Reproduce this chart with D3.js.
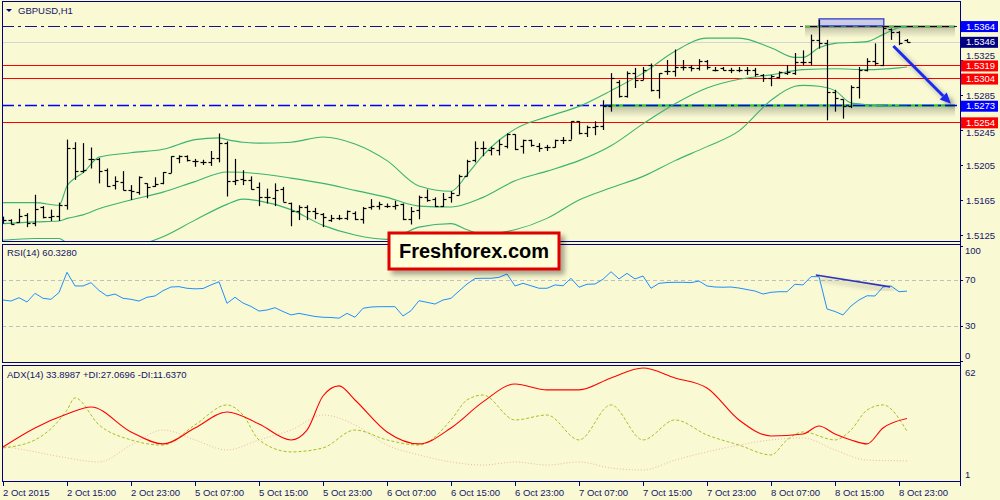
<!DOCTYPE html>
<html><head><meta charset="utf-8">
<script src="https://cdn.jsdelivr.net/npm/d3@7"></script>
<style>
html,body{margin:0;padding:0;background:#f9f9d3;}
svg{display:block;font-family:"Liberation Sans",Arial,sans-serif;}
</style></head><body>
<svg id="c" width="1000" height="500"></svg>
<script>
// ---------------- DATA ----------------
const symbol = "GBPUSD,H1";
const openP = [1.5143,1.5142,1.5140,1.5148,1.5139,1.5157,1.5146,1.5147,1.5159,1.5224,1.5198,1.5212,1.5212,1.5199,1.5182,1.5186,1.5176,1.5174,1.5184,1.5181,1.5184,1.5196,1.5213,1.5215,1.5210,1.5209,1.5208,1.5213,1.5230,1.5187,1.5189,1.5188,1.5180,1.5168,1.5167,1.5177,1.5162,1.5152,1.5157,1.5152,1.5149,1.5142,1.5144,1.5144,1.5150,1.5143,1.5157,1.5158,1.5158,1.5158,1.5160,1.5143,1.5153,1.5169,1.5166,1.5158,1.5168,1.5171,1.5192,1.5211,1.5224,1.5222,1.5222,1.5227,1.5240,1.5227,1.5233,1.5227,1.5225,1.5225,1.5234,1.5234,1.5255,1.5242,1.5248,1.5250,1.5272,1.5300,1.5284,1.5310,1.5302,1.5319,1.5291,1.5312,1.5312,1.5317,1.5317,1.5316,1.5324,1.5314,1.5316,1.5314,1.5314,1.5314,1.5313,1.5308,1.5304,1.5306,1.5310,1.5310,1.5323,1.5323,1.5348,1.5345,1.5289,1.5280,1.5272,1.5294,1.5314,1.5324,1.5319,1.5360,1.5357,1.5348];
const highP = [1.5146,1.5143,1.5155,1.5150,1.5171,1.5158,1.5154,1.5162,1.5234,1.5231,1.5230,1.5225,1.5213,1.5201,1.5192,1.5198,1.5182,1.5192,1.5184,1.5191,1.5197,1.5215,1.5216,1.5216,1.5212,1.5211,1.5221,1.5241,1.5232,1.5212,1.5199,1.5192,1.5185,1.5178,1.5184,1.5180,1.5162,1.5159,1.5159,1.5156,1.5150,1.5148,1.5148,1.5153,1.5152,1.5157,1.5166,1.5163,1.5161,1.5164,1.5161,1.5157,1.5170,1.5177,1.5168,1.5173,1.5175,1.5194,1.5211,1.5232,1.5232,1.5226,1.5234,1.5241,1.5240,1.5234,1.5234,1.5230,1.5228,1.5234,1.5237,1.5255,1.5255,1.5250,1.5255,1.5279,1.5310,1.5302,1.5312,1.5316,1.5317,1.5321,1.5310,1.5325,1.5337,1.5325,1.5319,1.5326,1.5325,1.5317,1.5317,1.5316,1.5317,1.5317,1.5316,1.5309,1.5308,1.5312,1.5319,1.5333,1.5336,1.5354,1.5371,1.5348,1.5291,1.5280,1.5296,1.5317,1.5327,1.5344,1.5363,1.5361,1.5358,1.5349];
const lowP = [1.5138,1.5137,1.5139,1.5134,1.5135,1.5144,1.5141,1.5141,1.5154,1.5188,1.5196,1.5201,1.5184,1.5180,1.5177,1.5176,1.5165,1.5171,1.5167,1.5180,1.5183,1.5196,1.5207,1.5209,1.5203,1.5205,1.5204,1.5208,1.5169,1.5182,1.5182,1.5177,1.5158,1.5161,1.5158,1.5163,1.5135,1.5142,1.5142,1.5143,1.5134,1.5140,1.5142,1.5142,1.5142,1.5138,1.5154,1.5154,1.5156,1.5154,1.5142,1.5137,1.5143,1.5163,1.5157,1.5157,1.5162,1.5171,1.5192,1.5208,1.5215,1.5216,1.5216,1.5224,1.5222,1.5218,1.5226,1.5220,1.5221,1.5225,1.5229,1.5234,1.5240,1.5237,1.5239,1.5245,1.5266,1.5282,1.5282,1.5293,1.5302,1.5289,1.5281,1.5308,1.5306,1.5313,1.5312,1.5313,1.5314,1.5312,1.5313,1.5310,1.5311,1.5308,1.5306,1.5300,1.5295,1.5304,1.5308,1.5308,1.5319,1.5319,1.5338,1.5256,1.5266,1.5258,1.5270,1.5281,1.5312,1.5318,1.5318,1.5348,1.5342,1.5345];
const closeP = [1.5142,1.5138,1.5147,1.5139,1.5155,1.5146,1.5147,1.5159,1.5224,1.5198,1.5199,1.5212,1.5198,1.5181,1.5187,1.5176,1.5175,1.5191,1.5180,1.5183,1.5197,1.5215,1.5215,1.5211,1.5210,1.5209,1.5213,1.5230,1.5187,1.5188,1.5188,1.5178,1.5168,1.5168,1.5176,1.5163,1.5152,1.5157,1.5152,1.5150,1.5146,1.5145,1.5144,1.5152,1.5143,1.5156,1.5158,1.5160,1.5158,1.5159,1.5143,1.5152,1.5168,1.5165,1.5158,1.5166,1.5173,1.5192,1.5210,1.5224,1.5224,1.5224,1.5229,1.5240,1.5223,1.5233,1.5228,1.5224,1.5225,1.5234,1.5234,1.5255,1.5242,1.5248,1.5250,1.5272,1.5304,1.5284,1.5310,1.5302,1.5314,1.5291,1.5310,1.5312,1.5317,1.5317,1.5316,1.5324,1.5317,1.5314,1.5314,1.5314,1.5314,1.5313,1.5309,1.5304,1.5307,1.5311,1.5311,1.5323,1.5323,1.5348,1.5344,1.5289,1.5281,1.5272,1.5294,1.5314,1.5324,1.5322,1.5361,1.5357,1.5345,1.5346];

// Bollinger bands (bar index, value)
const bbUpperIdx = [0,4,7,8,9,10,12,16,20,24,27,28,30,32,36,40,44,48,52,56,58,60,64,68,72,76,80,84,88,92,96,99,100,102,104,108,110,112,113];
const bbUpper = [1.5162,1.5162,1.5159,1.5181,1.5190,1.5196,1.5214,1.5219,1.5223,1.5234,1.5236,1.5234,1.5231,1.5230,1.5231,1.5237,1.5229,1.5210,1.5181,1.5175,1.5194,1.5216,1.5246,1.5260,1.5272,1.5290,1.5310,1.5335,1.5350,1.5350,1.5339,1.5328,1.5328,1.5339,1.5344,1.5346,1.5354,1.5362,1.5363];
const bbMiddleIdx = [0,4,7,8,10,12,16,20,24,28,32,36,40,44,48,52,56,60,64,68,72,76,80,84,88,92,96,100,104,108,112,113];
const bbMiddle = [1.5138,1.5140,1.5141,1.5144,1.5148,1.5155,1.5165,1.5174,1.5186,1.5197,1.5195,1.5190,1.5184,1.5176,1.5168,1.5158,1.5157,1.5168,1.5187,1.5198,1.5210,1.5227,1.5252,1.5275,1.5293,1.5303,1.5308,1.5314,1.5315,1.5314,1.5316,1.5317];
const bbLowerIdx = [0,4,7,8,12,16,20,24,28,30,32,36,40,44,48,52,56,58,60,64,68,72,76,80,84,88,92,96,99,100,102,104,106,108,112,113];
const bbLower = [1.5119,1.5121,1.5121,1.5116,1.5110,1.5112,1.5123,1.5142,1.5160,1.5166,1.5164,1.5154,1.5136,1.5125,1.5120,1.5134,1.5138,1.5131,1.5126,1.5131,1.5144,1.5165,1.5179,1.5192,1.5210,1.5226,1.5244,1.5279,1.5295,1.5296,1.5295,1.5290,1.5276,1.5274,1.5272,1.5272];

// RSI(14), one value per bar
const rsi = [52.6,51.7,54.6,50.9,58.4,54.1,53.2,59.1,76.7,64.8,
 64.8,67.7,60.9,56.1,57.8,54.1,53.2,51.7,55.0,56.1,
 60.7,63.9,64.2,62.8,62.3,62.6,65.7,68.5,49.7,55.0,
 50.0,47.0,43.0,43.9,45.9,42.6,39.6,41.0,39.6,38.3,
 37.6,37.4,36.8,41.0,37.6,45.4,46.5,46.8,46.8,46.8,
 38.7,43.3,52.0,50.6,49.1,52.6,54.1,60.4,66.5,71.3,
 71.5,71.5,72.3,75.2,64.8,67.1,65.0,62.8,62.8,65.7,
 65.0,71.5,63.7,66.3,66.5,70.6,77.2,70.9,75.8,70.9,
 73.5,62.8,67.1,67.8,68.0,68.0,67.7,69.1,64.8,63.9,
 63.7,63.9,63.0,61.7,60.4,57.8,59.3,59.8,59.8,66.3,
 65.7,72.9,72.9,44.8,42.6,39.6,47.4,52.6,56.3,56.1,
 63.9,64.8,59.8,60.3];
const rsiLevels = [70, 30];
const rsiTicks = [100, 70, 30, 0];

// ADX(14)
const adxIdx = [0,4,8,11,16,20,24,28,32,36,38,40,42,44,48,52,56,60,64,68,72,76,80,84,88,92,96,100,102,104,106,108,110,113];
const adx = [18.9,28.9,36.2,39.9,26.8,20.5,28.9,37.3,31.0,22.6,27.8,45.7,51.0,43.6,26.8,20.5,28.9,42.6,52.0,48.9,48.9,55.2,60.4,55.2,49.9,33.1,24.7,25.7,29.9,25.7,22.6,20.5,28.9,33.9];
const plusDiIdx = [0,4,8,9,12,16,20,24,28,30,32,36,40,44,48,52,56,58,60,64,68,72,76,80,84,88,92,96,98,100,104,106,108,110,113];
const plusDi = [18.4,22.6,38.3,44.7,30.5,22.6,19.9,30.5,41.0,35.7,22.6,16.3,18.4,27.8,22.6,19.9,33.1,43.6,46.2,33.1,35.7,22.6,41.0,22.6,33.1,25.2,19.9,14.7,22.6,26.8,22.6,27.8,38.3,41.0,27.1];
const minusDiIdx = [0,4,8,12,16,20,24,28,32,36,40,44,48,52,56,60,64,68,72,76,80,84,88,92,96,100,104,108,113];
const minusDi = [19.4,16.3,13.1,11.0,19.9,27.8,22.6,17.3,22.6,27.8,35.7,30.5,19.9,14.7,11.0,9.4,11.0,9.4,11.0,7.8,6.8,12.0,16.3,19.9,22.6,23.6,17.3,12.0,11.6];
const adxTicks = [62, 1];

// axes
const timeTickIdx = [0,8,16,24,32,40,48,56,64,72,80,88,96,104,112];
const timeTickLabels = ["2 Oct 2015","2 Oct 15:00","2 Oct 23:00","5 Oct 07:00","5 Oct 15:00","5 Oct 23:00","6 Oct 07:00","6 Oct 15:00","6 Oct 23:00","7 Oct 07:00","7 Oct 15:00","7 Oct 23:00","8 Oct 07:00","8 Oct 15:00","8 Oct 23:00"];
const priceTicks = [1.5325,1.5285,1.5245,1.5205,1.5165,1.5125];
const redLevels = [1.5319,1.5304,1.5254];
const bidPrice = 1.5346;
const topLevel = 1.5364;
const supportLevel = 1.5273;
const priceLabels = [
  {v:1.5364, bg:"#0000ff"},{v:1.5346, bg:"#000080"},{v:1.5319, bg:"#ff0000"},
  {v:1.5304, bg:"#ff0000"},{v:1.5273, bg:"#0000ff"},{v:1.5254, bg:"#ff0000"}];
// annotations (bar index / price)
const boxTop = {i0:102, i1:110.1, p0:1.5364, p1:1.5372};
const arrowPts = [[111.3,1.5341],[118.5,1.5275]];
const rsiTrend = [[101.6,74.3],[110.9,64.0]];
const adxTitle = "ADX(14) 33.8987 +DI:27.0696 -DI:11.6370";
const rsiTitle = "RSI(14) 60.3280";

// ---------------- DRAW ----------------
const svg = d3.select("#c");
const navy = "#000080", txt = "#14146a";
const L = 2, R = 960;
const P = {main:[1,241], rsi:[244,362], adx:[365,481]};

const x = d3.scaleLinear().domain([0,113]).range([3,907]);
const y = d3.scaleLinear().domain([1.5125,1.5365]).range([235,25]);
const yr = d3.scaleLinear().domain([0,100]).range([360.5,245.5]);
const ya = d3.scaleLinear().domain([1,62]).range([481,365]);

svg.append("rect").attr("width",1000).attr("height",500).attr("fill","#f9f9d3");
const defs = svg.append("defs");
Object.entries(P).forEach(([k,[t,b]])=>{
  defs.append("clipPath").attr("id","clip-"+k).append("rect")
    .attr("x",L).attr("y",t).attr("width",R-L).attr("height",b-t);
});
const sh = defs.append("linearGradient").attr("id","shade").attr("x1",0).attr("x2",0).attr("y1",0).attr("y2",1);
sh.append("stop").attr("offset","0%").attr("stop-color","#000").attr("stop-opacity",0.22);
sh.append("stop").attr("offset","100%").attr("stop-color","#000").attr("stop-opacity",0);
const f = defs.append("filter").attr("id","ds").attr("x","-20%").attr("y","-20%").attr("width","150%").attr("height","150%");
f.append("feDropShadow").attr("dx",4).attr("dy",4).attr("stdDeviation",2.5).attr("flood-color","#000").attr("flood-opacity",0.35);

const gMain = svg.append("g").attr("clip-path","url(#clip-main)");

// shading below drawn objects
gMain.append("rect").attr("x",x(75.25)).attr("y",y(supportLevel)+1).attr("width",R-x(75.25)-5).attr("height",11).attr("fill","url(#shade)");
gMain.append("rect").attr("x",x(100.25)).attr("y",y(topLevel)+1).attr("width",R-x(100.25)-5).attr("height",11).attr("fill","url(#shade)");

// horizontal levels
const hline = (g,v,stroke,w,dash)=> g.append("line").attr("x1",L).attr("x2",R)
  .attr("y1",Math.round(y(v))+0.5).attr("y2",Math.round(y(v))+0.5)
  .attr("stroke",stroke).attr("stroke-width",w).attr("stroke-dasharray",dash||null);
hline(gMain,bidPrice,"#d4d4d4",1);
redLevels.forEach(v=>hline(gMain,v,"#ff0000",1));
hline(gMain,topLevel,"#101090",1,"12,4,3,4");
gMain.append("line").attr("x1",x(75.25)).attr("x2",R-5).attr("y1",Math.round(y(supportLevel))+0.5).attr("y2",Math.round(y(supportLevel))+0.5)
  .attr("stroke","#32c832").attr("stroke-width",2.5);
hline(gMain,supportLevel,"#0000ff",1.6,"12,4,3,4");
gMain.append("line").attr("x1",x(100.25)).attr("x2",R-5).attr("y1",Math.round(y(topLevel))+0.5).attr("y2",Math.round(y(topLevel))+0.5)
  .attr("stroke","#000").attr("stroke-width",1.4);
gMain.append("line").attr("x1",x(100.25)).attr("x2",R-5).attr("y1",Math.round(y(topLevel))+0.5).attr("y2",Math.round(y(topLevel))+0.5)
  .attr("stroke","#44cc44").attr("stroke-width",1.4).attr("stroke-dasharray","5,7");

// box at top
gMain.append("rect").attr("x",x(boxTop.i0)).attr("y",y(boxTop.p1)).attr("width",x(boxTop.i1)-x(boxTop.i0))
  .attr("height",y(boxTop.p0)-y(boxTop.p1)).attr("fill","#c9cde6").attr("stroke","#3a3ad0").attr("stroke-width",1.3);

// Bollinger bands
const pairs = (idx,vals)=>idx.map((d,k)=>[d,vals[k]]);
const bandLine = d3.line().x(d=>x(d[0])).y(d=>y(d[1])).curve(d3.curveMonotoneX);
[[bbUpperIdx,bbUpper],[bbMiddleIdx,bbMiddle],[bbLowerIdx,bbLower]].forEach(([i,v])=>{
  gMain.append("path").attr("d",bandLine(pairs(i,v))).attr("fill","none").attr("stroke","#3cb371").attr("stroke-width",1.1);
});

// OHLC bars
const bars = gMain.append("g").attr("stroke","#000").attr("stroke-width",1.2);
openP.forEach((o,i)=>{
  const xx = Math.round(x(i))+0.5;
  bars.append("line").attr("x1",xx).attr("x2",xx).attr("y1",y(highP[i])).attr("y2",y(lowP[i]));
  bars.append("line").attr("x1",xx-3).attr("x2",xx).attr("y1",Math.round(y(o))+0.5).attr("y2",Math.round(y(o))+0.5);
  bars.append("line").attr("x1",xx).attr("x2",xx+3).attr("y1",Math.round(y(closeP[i]))+0.5).attr("y2",Math.round(y(closeP[i]))+0.5);
});

// arrow
const ag = svg.append("g").attr("filter","url(#ds)");
const a0=[x(arrowPts[0][0]),y(arrowPts[0][1])], a1=[x(arrowPts[1][0]),y(arrowPts[1][1])];
const dx=a1[0]-a0[0], dy=a1[1]-a0[1], len=Math.hypot(dx,dy), ux=dx/len, uy=dy/len;
const hb=[a1[0]-ux*11,a1[1]-uy*11];
ag.append("line").attr("x1",a0[0]).attr("y1",a0[1]).attr("x2",hb[0]).attr("y2",hb[1]).attr("stroke","#1a2cf0").attr("stroke-width",3);
ag.append("polygon").attr("points",[[a1[0],a1[1]],[hb[0]-uy*5,hb[1]+ux*5],[hb[0]+uy*5,hb[1]-ux*5]].map(p=>p.join(",")).join(" ")).attr("fill","#1a2cf0");

// RSI panel
const gR = svg.append("g").attr("clip-path","url(#clip-rsi)");
rsiLevels.forEach(v=>gR.append("line").attr("x1",L).attr("x2",R).attr("y1",Math.round(yr(v))+0.5).attr("y2",Math.round(yr(v))+0.5)
  .attr("stroke","#c0c0c0").attr("stroke-dasharray","4,3"));
gR.append("path").attr("d",d3.line().x((d,i)=>x(i)).y(d=>yr(d))(rsi)).attr("fill","none").attr("stroke","#1e90ff").attr("stroke-width",1);
gR.append("line").attr("x1",x(rsiTrend[0][0])).attr("y1",yr(rsiTrend[0][1])).attr("x2",x(rsiTrend[1][0])).attr("y2",yr(rsiTrend[1][1]))
  .attr("stroke","#3333bb").attr("stroke-width",1.6).attr("filter","url(#ds)");

// ADX panel
const gA = svg.append("g").attr("clip-path","url(#clip-adx)");
const aLine = d3.line().x(d=>x(d[0])).y(d=>ya(d[1])).curve(d3.curveMonotoneX);
gA.append("path").attr("d",aLine(pairs(minusDiIdx,minusDi))).attr("fill","none").attr("stroke","#f0b4b4").attr("stroke-width",1).attr("stroke-dasharray","1,2");
gA.append("path").attr("d",aLine(pairs(plusDiIdx,plusDi))).attr("fill","none").attr("stroke","#a8c020").attr("stroke-width",1).attr("stroke-dasharray","3,2");
gA.append("path").attr("d",aLine(pairs(adxIdx,adx))).attr("fill","none").attr("stroke","#ff0000").attr("stroke-width",1.1);

// panel frames
Object.values(P).forEach(([t,b])=>{
  svg.append("rect").attr("x",L+0.5).attr("y",t+0.5).attr("width",R-L).attr("height",b-t).attr("fill","none").attr("stroke",navy).attr("stroke-width",1);
});

// Freshforex box
const fx = svg.append("g");
fx.append("rect").attr("x",389).attr("y",233).attr("width",170).attr("height",36).attr("fill","#ffffd9").attr("stroke","#e00000").attr("stroke-width",3).attr("filter","url(#ds)");
fx.append("text").attr("x",474).attr("y",258).attr("text-anchor","middle").attr("font-size",20).attr("font-weight","bold").attr("fill","#000").text("Freshforex.com");

// titles
svg.append("path").attr("d","M6,9 L12,9 L9,12 Z").attr("fill",navy);
const T = (xx,yy,s,anchor)=>svg.append("text").attr("x",xx).attr("y",yy).attr("font-size",9.5).attr("fill",txt).attr("text-anchor",anchor||"start").text(s);
T(18,14,symbol);
T(7,256,rsiTitle);
T(7,378,adxTitle);

// right price axis (labels nudged away from the level boxes)
const labelNudge = {"1.5325":-4.5, "1.5245":2.5};
priceTicks.forEach(v=>{
  const yy=Math.round(y(v))+0.5, s=d3.format(".4f")(v);
  svg.append("line").attr("x1",R).attr("x2",R+3).attr("y1",yy).attr("y2",yy).attr("stroke",navy);
  T(966,yy+3.3+(labelNudge[s]||0),s);
});
priceLabels.forEach(d=>{
  const yy=y(d.v);
  svg.append("rect").attr("x",961).attr("y",yy-4.8).attr("width",37).attr("height",11).attr("fill",d.bg);
  svg.append("text").attr("x",966).attr("y",yy+3.8).attr("font-size",9.5).attr("fill","#fff").text(d3.format(".4f")(d.v));
});
// RSI axis
const rsiLabY = {100:253.5,70:282.5,30:329,0:358.5};
rsiTicks.forEach(v=>{
  svg.append("line").attr("x1",R).attr("x2",R+3).attr("y1",Math.round(yr(v))+0.5).attr("y2",Math.round(yr(v))+0.5).attr("stroke",navy);
  T(965,rsiLabY[v],String(v));
});
// ADX axis
const adxLabY = {62:375.5,1:477.5};
adxTicks.forEach(v=>T(965,adxLabY[v],String(v)));

// time axis
timeTickIdx.forEach((d,k)=>{
  const xx=Math.round(x(d))+0.5;
  svg.append("line").attr("x1",xx).attr("x2",xx).attr("y1",481).attr("y2",486).attr("stroke",navy);
  T(xx-0.5,495.5,timeTickLabels[k]);
});
svg.append("line").attr("x1",R+0.5).attr("x2",R+0.5).attr("y1",1).attr("y2",486).attr("stroke",navy);
</script>
</body></html>
